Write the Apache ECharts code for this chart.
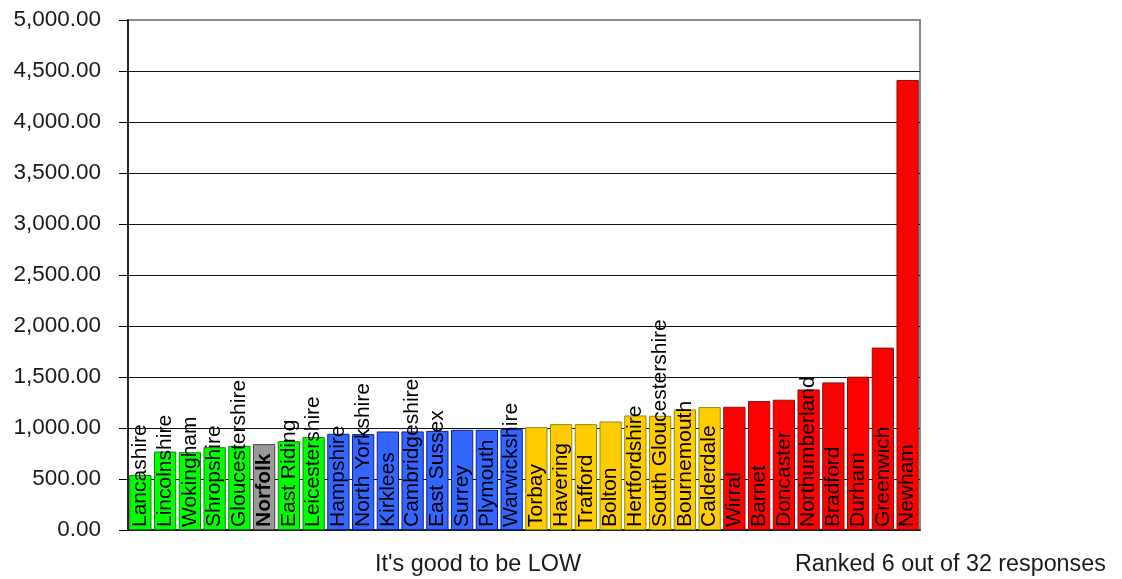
<!DOCTYPE html>
<html>
<head>
<meta charset="utf-8">
<title>Ranked responses</title>
<script src="https://cdn.jsdelivr.net/npm/echarts@6/dist/echarts.min.js"></script>
<style>
  html, body { margin: 0; padding: 0; background: #fff; }
  #chart { width: 1122px; height: 579px; }
</style>
</head>
<body>
<div id="chart"></div>
<script>
// Authorities, lowest to highest
const categories = [
  'Lancashire', 'Lincolnshire', 'Wokingham', 'Shropshire', 'Gloucestershire',
  'Norfolk', 'East Riding', 'Leicestershire',
  'Hampshire', 'North Yorkshire', 'Kirklees', 'Cambridgeshire', 'East Sussex',
  'Surrey', 'Plymouth', 'Warwickshire',
  'Torbay', 'Havering', 'Trafford', 'Bolton', 'Hertfordshire',
  'South Gloucestershire', 'Bournemouth', 'Calderdale',
  'Wirral', 'Barnet', 'Doncaster', 'Northumberland', 'Bradford', 'Durham',
  'Greenwich', 'Newham'
];

const values = [
  540, 769, 763, 812, 825, 842, 871, 911,
  943, 940, 966, 966, 972, 982, 982, 989,
  1009, 1038, 1038, 1064, 1123, 1120, 1182, 1205,
  1208, 1264, 1277, 1378, 1447, 1503, 1788, 4412
];

// Quartile band of each authority
const bands = [
  'q1', 'q1', 'q1', 'q1', 'q1', 'self', 'q1', 'q1',
  'q2', 'q2', 'q2', 'q2', 'q2', 'q2', 'q2', 'q2',
  'q3', 'q3', 'q3', 'q3', 'q3', 'q3', 'q3', 'q3',
  'q4', 'q4', 'q4', 'q4', 'q4', 'q4', 'q4', 'q4'
];

const highlighted = 'Norfolk';
const footerLeft = "It's good to be LOW";
const footerRight = 'Ranked 6 out of 32 responses';

const bandFill = { q1: '#00FF00', self: '#999999', q2: '#3366FF', q3: '#FFCC00', q4: '#FF0000' };
const bandEdge = { q1: '#118811', self: '#444444', q2: '#10208A', q3: '#8C8C10', q4: '#8A1010' };

const font = '"Liberation Sans", Arial, sans-serif';

function money(v) {
  return v.toLocaleString('en-US', { minimumFractionDigits: 2, maximumFractionDigits: 2 });
}

const barData = values.map((v, i) => {
  const item = {
    value: v,
    itemStyle: { color: bandFill[bands[i]], borderColor: bandEdge[bands[i]], borderWidth: 1 }
  };
  if (categories[i] === highlighted) {
    item.label = { fontWeight: 'bold' };
  }
  return item;
});

const chart = echarts.init(document.getElementById('chart'), null, { renderer: 'canvas' });

chart.setOption({
  animation: false,
  backgroundColor: '#ffffff',
  grid: {
    left: 128, right: 202, top: 20, bottom: 49,
    show: true, borderColor: '#8a8a8a', borderWidth: 2, backgroundColor: 'transparent'
  },
  xAxis: {
    type: 'category',
    data: categories,
    axisLine: { show: true, lineStyle: { color: '#000', width: 1.5 } },
    axisTick: { show: false },
    axisLabel: { show: false },
    splitLine: { show: false }
  },
  yAxis: {
    type: 'value',
    min: 0,
    max: 5000,
    interval: 500,
    axisLine: { show: true, lineStyle: { color: '#000', width: 1.5 } },
    axisTick: { show: true, length: 9, lineStyle: { color: '#000' } },
    axisLabel: {
      margin: 27,
      color: '#1a1a1a',
      fontFamily: font,
      fontSize: 22.5,
      formatter: money
    },
    splitLine: {
      show: true,
      showMinLine: false,
      showMaxLine: false,
      lineStyle: { color: '#111', width: 1 }
    }
  },
  series: [{
    type: 'bar',
    data: barData,
    barCategoryGap: '10%',
    label: {
      show: true,
      formatter: p => p.name,
      position: 'insideBottom',
      distance: 3,
      rotate: 90,
      align: 'left',
      verticalAlign: 'middle',
      color: '#000',
      fontFamily: font,
      fontSize: 21
    },
    labelLayout: { hideOverlap: false }
  }],
  graphic: [
    {
      type: 'text', left: 375, top: 553,
      style: { text: footerLeft, fill: '#1a1a1a', font: '23.4px ' + font }
    },
    {
      type: 'text', left: 795, top: 553,
      style: { text: footerRight, fill: '#1a1a1a', font: '23.3px ' + font }
    }
  ]
});
</script>
</body>
</html>
